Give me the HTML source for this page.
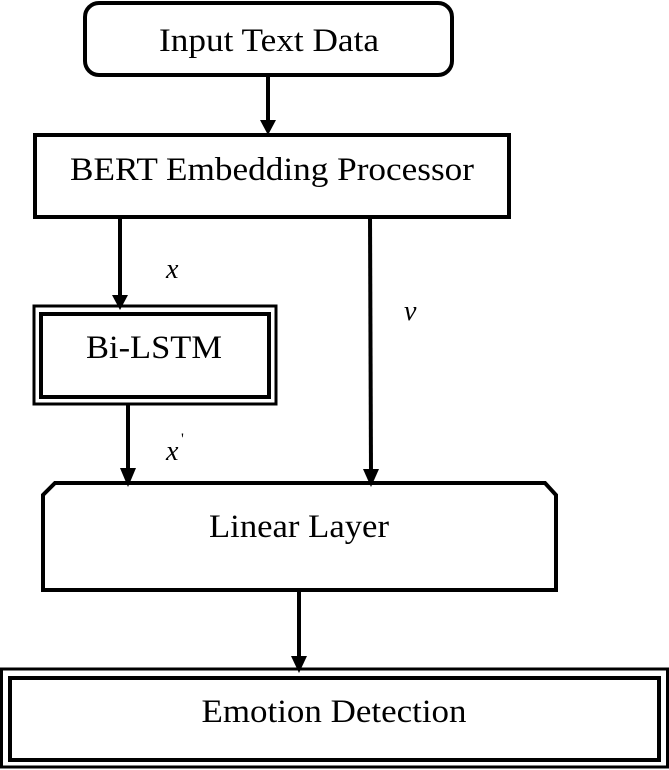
<!DOCTYPE html>
<html><head><meta charset="utf-8"><style>html,body{margin:0;padding:0;background:#fff;width:669px;height:770px;overflow:hidden}</style></head>
<body>
<svg width="669" height="770" viewBox="0 0 669 770" xmlns="http://www.w3.org/2000/svg" font-family="'Liberation Serif', serif" fill="none" stroke="#000">
<rect x="85" y="3" width="367" height="72" rx="14" stroke-width="4"/>
<text x="269" y="51" font-size="33" text-anchor="middle" fill="#000" stroke="none" textLength="220" lengthAdjust="spacingAndGlyphs">Input Text Data</text>
<line x1="268" y1="75" x2="268" y2="122" stroke-width="4"/>
<polygon points="260,120 276,120 268,135" fill="#000" stroke="none"/>
<rect x="35" y="135" width="474" height="82" stroke-width="4"/>
<text x="272" y="180" font-size="33" text-anchor="middle" fill="#000" stroke="none" textLength="404" lengthAdjust="spacingAndGlyphs">BERT Embedding Processor</text>
<line x1="120" y1="217" x2="120" y2="297" stroke-width="4"/>
<polygon points="112,295 128,295 120,310" fill="#000" stroke="none"/>
<text x="166" y="278" font-size="28" font-style="italic" fill="#000" stroke="none">x</text>
<line x1="370" y1="216" x2="371" y2="472" stroke-width="4"/>
<polygon points="363,469 379,469 371,487" fill="#000" stroke="none"/>
<text x="404" y="320" font-size="28" font-style="italic" fill="#000" stroke="none">v</text>
<rect x="34" y="306" width="242" height="98" stroke-width="3"/>
<rect x="41" y="314" width="228" height="83" stroke-width="4"/>
<text x="154" y="358" font-size="33" text-anchor="middle" fill="#000" stroke="none" textLength="136" lengthAdjust="spacingAndGlyphs">Bi-LSTM</text>
<line x1="128" y1="404" x2="128" y2="470" stroke-width="4"/>
<polygon points="120,468 136,468 128,487" fill="#000" stroke="none"/>
<text x="166" y="460" font-size="28" font-style="italic" fill="#000" stroke="none">x</text>
<text x="181" y="444" font-size="16" fill="#000" stroke="none">'</text>
<polygon points="55,483 545,483 556,495 556,590 43,590 43,495" stroke-width="4"/>
<text x="299" y="537" font-size="33" text-anchor="middle" fill="#000" stroke="none" textLength="180" lengthAdjust="spacingAndGlyphs">Linear Layer</text>
<line x1="299" y1="590" x2="299" y2="659" stroke-width="4"/>
<polygon points="291,656 307,656 299,673" fill="#000" stroke="none"/>
<rect x="1.5" y="669" width="666" height="98" stroke-width="3"/>
<rect x="10" y="678" width="649" height="82" stroke-width="4"/>
<text x="334" y="722" font-size="33" text-anchor="middle" fill="#000" stroke="none" textLength="265" lengthAdjust="spacingAndGlyphs">Emotion Detection</text>
</svg>
</body></html>
